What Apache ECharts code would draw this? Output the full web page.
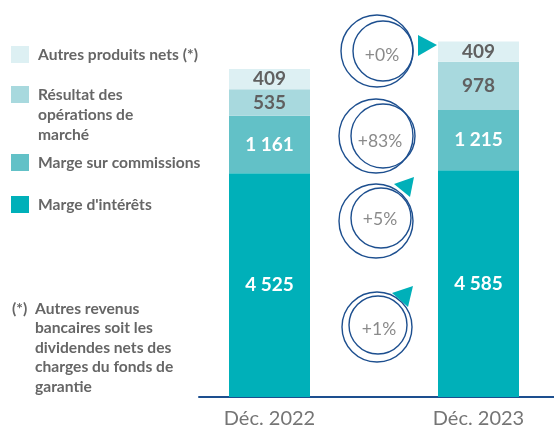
<!DOCTYPE html>
<html>
<head>
<meta charset="utf-8">
<script src="https://cdn.jsdelivr.net/npm/echarts@6/dist/echarts.min.js"></script>
<style>
  html, body { margin: 0; padding: 0; background: #ffffff; }
  #chart { width: 554px; height: 428px; }
</style>
</head>
<body>
<div id="chart"></div>
<script>
// Produit net bancaire par composante (stacked, bottom to top)
const periods = ['Déc. 2022', 'Déc. 2023'];
const margeInterets = [4525, 4585];
const margeCommissions = [1161, 1215];
const resultatMarche = [535, 978];
const autresProduits = [409, 409];

// Year-on-year change per component, top to bottom
const variations = ['+0%', '+83%', '+5%', '+1%'];

const seriesNames = [
  "Marge d'intérêts",
  'Marge sur commissions',
  'Résultat des opérations de marché',
  'Autres produits nets (*)'
];
// Leading blank lines keep the swatch level with the first text line
const legendLabels = {
  'Résultat des opérations de marché': '\n\nRésultat des\nopérations de\nmarché'
};
const footnoteLines = [
  'Autres revenus',
  'bancaires soit les',
  'dividendes nets des',
  'charges du fonds de',
  'garantie'
];

const FONT = 'Lato';
const palette = ['#00b0b9', '#62c1c7', '#a8d9de', '#ddf0f3'];
const navy = '#1d4f8f';

const fmt = v => String(v).replace(/\B(?=(\d{3})+(?!\d))/g, ' ');

function barSeries(name, data, color, labelColor) {
  return {
    name: name,
    type: 'bar',
    stack: 'pnb',
    data: data,
    barWidth: 81,
    itemStyle: { color: color },
    label: {
      show: true,
      position: 'inside',
      formatter: p => fmt(p.value),
      fontFamily: FONT,
      fontWeight: 'bold',
      fontSize: 19,
      color: labelColor
    },
    emphasis: { disabled: true }
  };
}

const seriesData = [margeInterets, margeCommissions, resultatMarche, autresProduits];
const labelColors = ['#ffffff', '#ffffff', '#606060', '#606060'];

// One legend block per component
const legendTops = { 'Autres produits nets (*)': 44.5,
                     'Résultat des opérations de marché': 44.5,
                     'Marge sur commissions': 152.5,
                     "Marge d'intérêts": 194.5 };
const legends = seriesNames.map(name => ({
  data: [name],
  left: 11,
  top: legendTops[name],
  padding: 0,
  orient: 'vertical',
  icon: 'rect',
  itemWidth: 18,
  itemHeight: 17,
  selectedMode: false,
  formatter: n => legendLabels[n] || n,
  textStyle: {
    fontFamily: FONT,
    fontWeight: 'bold',
    fontSize: 15.6,
    lineHeight: 20,
    color: '#666666',
    padding: [0, 0, 0, 4]
  }
}));

// Change badges drawn between the two bars
const badgeLayout = [
  { outer: [377, 51, 36],  inner: [383, 51, 30],  text: [382, 55],  arrow: [[418, 35], [437, 45], [418, 56]] },
  { outer: [376, 136, 37], inner: [383, 136, 32], text: [380, 141], arrow: null },
  { outer: [376, 221, 37], inner: [381, 218, 30], text: [380, 219], arrow: [[394, 184], [414, 177], [410, 197]] },
  { outer: [377, 327, 35], inner: [378, 325, 29], text: [379, 329], arrow: [[392, 293], [413, 286], [408, 307]] }
];
const badgeGraphics = [];
badgeLayout.forEach((b, i) => {
  badgeGraphics.push({
    type: 'circle', silent: true, z: 100,
    shape: { cx: b.outer[0], cy: b.outer[1], r: b.outer[2] },
    style: { fill: 'none', stroke: navy, lineWidth: 1.4 }
  });
  badgeGraphics.push({
    type: 'circle', silent: true, z: 100,
    shape: { cx: b.inner[0], cy: b.inner[1], r: b.inner[2] },
    style: { fill: 'none', stroke: navy, lineWidth: 1.4 }
  });
  badgeGraphics.push({
    type: 'text', silent: true, z: 100,
    x: b.text[0], y: b.text[1],
    style: {
      text: variations[i],
      fontFamily: FONT, fontSize: 17.5, fill: '#8a8a8a',
      align: 'center', verticalAlign: 'middle'
    }
  });
  if (b.arrow) {
    badgeGraphics.push({
      type: 'polygon', silent: true, z: 100,
      shape: { points: b.arrow },
      style: { fill: '#00b0b9' }
    });
  }
});

const footnoteGraphics = [
  {
    type: 'text', left: 12, top: 299, silent: true,
    style: { text: '(*)', fontFamily: FONT, fontWeight: 'bold', fontSize: 15.6, lineHeight: 19.5, fill: '#666666' }
  },
  {
    type: 'text', left: 35, top: 299, silent: true,
    style: { text: footnoteLines.join('\n'), fontFamily: FONT, fontWeight: 'bold', fontSize: 15.6, lineHeight: 19.5, fill: '#666666' }
  }
];

const chart = echarts.init(document.getElementById('chart'), null, { renderer: 'canvas' });
chart.setOption({
  backgroundColor: '#ffffff',
  animation: false,
  legend: legends,
  grid: [
    { left: 165, width: 418, top: 26, bottom: 31, outerBoundsMode: 'none', containLabel: false },
    { left: 199, right: 0, top: 26, bottom: 31, outerBoundsMode: 'none', containLabel: false }
  ],
  xAxis: [
    {
      type: 'category',
      gridIndex: 0,
      data: periods,
      axisLine: { show: false },
      axisTick: { show: false },
      axisLabel: { fontFamily: FONT, fontSize: 20, color: '#757575', margin: 12 }
    },
    {
      type: 'value',
      gridIndex: 1,
      min: 0, max: 1,
      axisLine: { show: true, onZero: false, lineStyle: { color: navy, width: 2 } },
      axisTick: { show: false },
      axisLabel: { show: false },
      splitLine: { show: false }
    }
  ],
  yAxis: [
    { type: 'value', gridIndex: 0, min: 0, max: 7500, show: false },
    { type: 'value', gridIndex: 1, min: 0, max: 1, show: false }
  ],
  series: seriesNames.map((n, i) => barSeries(n, seriesData[i], palette[i], labelColors[i])),
  graphic: badgeGraphics.concat(footnoteGraphics)
});
</script>
</body>
</html>
